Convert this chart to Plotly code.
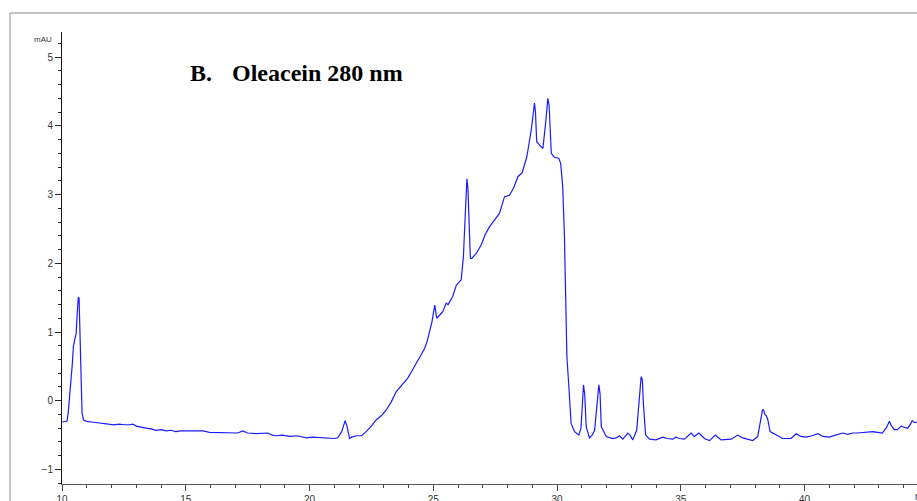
import plotly.graph_objects as go

# retention time (min) and absorbance (mAU)
time_min = [
    10.0, 10.1, 10.2, 10.25, 10.3, 10.37, 10.42, 10.46, 10.52, 10.57, 10.62, 10.66, 10.69, 10.73,
    10.76, 10.78, 10.81, 10.87, 11.0, 11.2, 11.4, 11.52, 11.7, 11.9, 12.1, 12.3, 12.5, 12.73,
    12.86, 13.0, 13.2, 13.4, 13.6, 13.8, 14.0, 14.21, 14.4, 14.6, 14.8, 15.0, 15.28, 15.5, 15.7,
    15.96, 16.2, 16.5, 16.7, 16.9, 17.1, 17.3, 17.5, 17.85, 18.1, 18.3, 18.5, 18.65, 18.9, 19.2,
    19.5, 19.87, 20.1, 20.4, 20.7, 21.0, 21.14, 21.3, 21.44, 21.52, 21.62, 21.7, 21.9, 22.1,
    22.29, 22.5, 22.69, 22.9, 23.1, 23.3, 23.5, 23.7, 23.97, 24.15, 24.31, 24.5, 24.65, 24.75,
    24.85, 24.95, 25.06, 25.14, 25.25, 25.39, 25.52, 25.6, 25.79, 25.93, 26.13, 26.22, 26.26,
    26.32, 26.36, 26.4, 26.44, 26.5, 26.56, 26.75, 26.94, 27.1, 27.27, 27.5, 27.68, 27.88, 28.08,
    28.25, 28.42, 28.59, 28.78, 28.96, 29.09, 29.13, 29.18, 29.3, 29.43, 29.54, 29.63, 29.68,
    29.77, 29.9, 30.07, 30.15, 30.23, 30.3, 30.37, 30.4, 30.48, 30.57, 30.71, 30.8, 30.88, 30.97,
    31.02, 31.07, 31.12, 31.18, 31.31, 31.42, 31.52, 31.6, 31.69, 31.74, 31.79, 31.99, 32.25,
    32.4, 32.53, 32.66, 32.86, 32.95, 33.06, 33.22, 33.3, 33.4, 33.45, 33.49, 33.58, 33.74, 34.0,
    34.27, 34.45, 34.68, 34.8, 34.95, 35.15, 35.42, 35.55, 35.73, 35.96, 36.16, 36.4, 36.63,
    37.04, 37.3, 37.5, 37.91, 38.11, 38.21, 38.3, 38.34, 38.4, 38.46, 38.52, 38.61, 38.86, 39.12,
    39.46, 39.66, 39.85, 40.07, 40.3, 40.54, 40.75, 41.01, 41.25, 41.55, 41.75, 41.95, 42.15,
    42.36, 42.55, 42.76, 42.95, 43.14, 43.3, 43.43, 43.5, 43.63, 43.75, 43.91, 44.05, 44.17,
    44.3, 44.35, 44.45, 44.55,
]
absorbance_mau = [
    -0.31, -0.31, -0.30, -0.18, 0.01, 0.35, 0.55, 0.79, 0.90, 0.98, 1.30, 1.51, 1.49, 0.93,
    0.40, 0.06, -0.18, -0.28, -0.30, -0.31, -0.32, -0.33, -0.33, -0.34, -0.35, -0.34, -0.35, -0.35,
    -0.34, -0.37, -0.39, -0.40, -0.41, -0.43, -0.42, -0.44, -0.43, -0.45, -0.44, -0.44, -0.44, -0.45, -0.44,
    -0.46, -0.46, -0.47, -0.46, -0.47, -0.47, -0.44, -0.47, -0.48, -0.48, -0.47, -0.50, -0.51, -0.50, -0.52,
    -0.51, -0.54, -0.53, -0.54, -0.55, -0.55, -0.54, -0.45, -0.29, -0.38, -0.55, -0.53, -0.51, -0.51,
    -0.45, -0.37, -0.28, -0.22, -0.135, -0.02, 0.13, 0.22, 0.33, 0.44, 0.54, 0.65, 0.76, 0.86,
    1.03, 1.15, 1.39, 1.20, 1.24, 1.30, 1.42, 1.40, 1.52, 1.68, 1.76, 2.10, 2.44,
    3.00, 3.23, 3.10, 2.78, 2.07, 2.07, 2.15, 2.27, 2.42, 2.53, 2.64, 2.73, 2.97, 2.99,
    3.10, 3.26, 3.32, 3.55, 3.94, 4.33, 4.20, 3.77, 3.72, 3.67, 4.04, 4.40, 4.30,
    3.60, 3.54, 3.53, 3.45, 3.12, 2.40, 1.37, 0.64, 0.20, -0.33, -0.45, -0.47, -0.50, -0.40,
    -0.10, 0.23, 0.10, -0.38, -0.54, -0.50, -0.43, -0.10, 0.23, 0.10, -0.38, -0.52, -0.55,
    -0.54, -0.51, -0.56, -0.47, -0.50, -0.57, -0.43, -0.10, 0.35, 0.30, -0.04, -0.50, -0.56, -0.57,
    -0.53, -0.55, -0.56, -0.53, -0.55, -0.56, -0.47, -0.52, -0.47, -0.55, -0.58, -0.50, -0.57,
    -0.56, -0.50, -0.54, -0.58, -0.52, -0.33, -0.14, -0.125, -0.20, -0.22, -0.28, -0.45, -0.50, -0.55,
    -0.55, -0.48, -0.52, -0.53, -0.51, -0.48, -0.52, -0.53, -0.50, -0.47, -0.49, -0.47, -0.47,
    -0.46, -0.46, -0.45, -0.46, -0.47, -0.40, -0.30, -0.36, -0.42, -0.42, -0.37, -0.39, -0.40,
    -0.33, -0.29, -0.32, -0.31,
]

x_tick_vals = [10, 15, 20, 25, 30, 35, 40]
y_tick_vals = [-1, 0, 1, 2, 3, 4, 5]
title_prefix = "B."
title_text = "Oleacein 280 nm"
y_unit = "mAU"
x_unit = "min"

W, H = 917, 501
ML, MR, MT, MB = 62, 0, 32, 17
PW, PH = W - ML - MR, H - MT - MB
X0 = 10.0
X1 = X0 + PW / 24.75
Y1 = 5.366
Y0 = -1.212


def px_x(p):
    return (p - ML) / PW


def px_y(p):
    return 1 - (p - MT) / PH


tick_font = dict(family="Arial, Liberation Sans, sans-serif", size=10, color="#333333")

fig = go.Figure()
fig.add_trace(go.Scatter(
    x=time_min, y=absorbance_mau, mode="lines",
    line=dict(color="#1a1aff", width=1.2), showlegend=False, hoverinfo="skip",
))

fig.update_layout(
    width=W, height=H, autosize=False,
    margin=dict(l=ML, r=MR, t=MT, b=MB, pad=0, autoexpand=False),
    paper_bgcolor="white", plot_bgcolor="white",
    xaxis=dict(
        range=[X0, X1], tickvals=x_tick_vals, ticks="outside", ticklen=6, tickwidth=1,
        tickcolor="#444444", showline=True, linecolor="#555555", linewidth=1, automargin=False,
        showgrid=False, zeroline=False, tickfont=tick_font,
        minor=dict(dtick=1, tick0=10, ticks="outside", ticklen=3, tickcolor="#444444", showgrid=False),
    ),
    yaxis=dict(
        range=[Y0, Y1], tickvals=y_tick_vals, ticks="outside", ticklen=6, tickwidth=1,
        tickcolor="#222222", showline=True, linecolor="#111111", linewidth=1, automargin=False,
        showgrid=False, zeroline=False, tickfont=tick_font,
        minor=dict(dtick=0.2, tick0=0, ticks="outside", ticklen=3, tickcolor="#222222", showgrid=False),
    ),
    shapes=[
        dict(type="line", xref="paper", yref="paper", x0=px_x(10), x1=px_x(930), y0=px_y(13), y1=px_y(13),
             line=dict(color="#8a8a8a", width=1)),
        dict(type="line", xref="paper", yref="paper", x0=px_x(10), x1=px_x(10), y0=px_y(13), y1=px_y(520),
             line=dict(color="#8a8a8a", width=1)),
    ],
    annotations=[
        dict(text=y_unit, xref="paper", yref="paper", x=px_x(54), y=px_y(39.5), xanchor="right", yanchor="middle",
             showarrow=False, font=dict(family="Arial, Liberation Sans, sans-serif", size=8, color="#333333")),
        dict(text=x_unit, xref="paper", yref="paper", x=px_x(913), y=px_y(496), xanchor="left", yanchor="middle",
             showarrow=False, font=tick_font),
        dict(text="<b>" + title_prefix + "</b>", xref="paper", yref="paper", x=px_x(188), y=px_y(73),
             xanchor="left", yanchor="middle", showarrow=False,
             font=dict(family="Liberation Serif, Times New Roman, serif", size=24, color="black")),
        dict(text="<b>" + title_text + "</b>", xref="paper", yref="paper", x=px_x(230), y=px_y(73),
             xanchor="left", yanchor="middle", showarrow=False,
             font=dict(family="Liberation Serif, Times New Roman, serif", size=24, color="black")),
    ],
)

fig.write_html("out.html")
